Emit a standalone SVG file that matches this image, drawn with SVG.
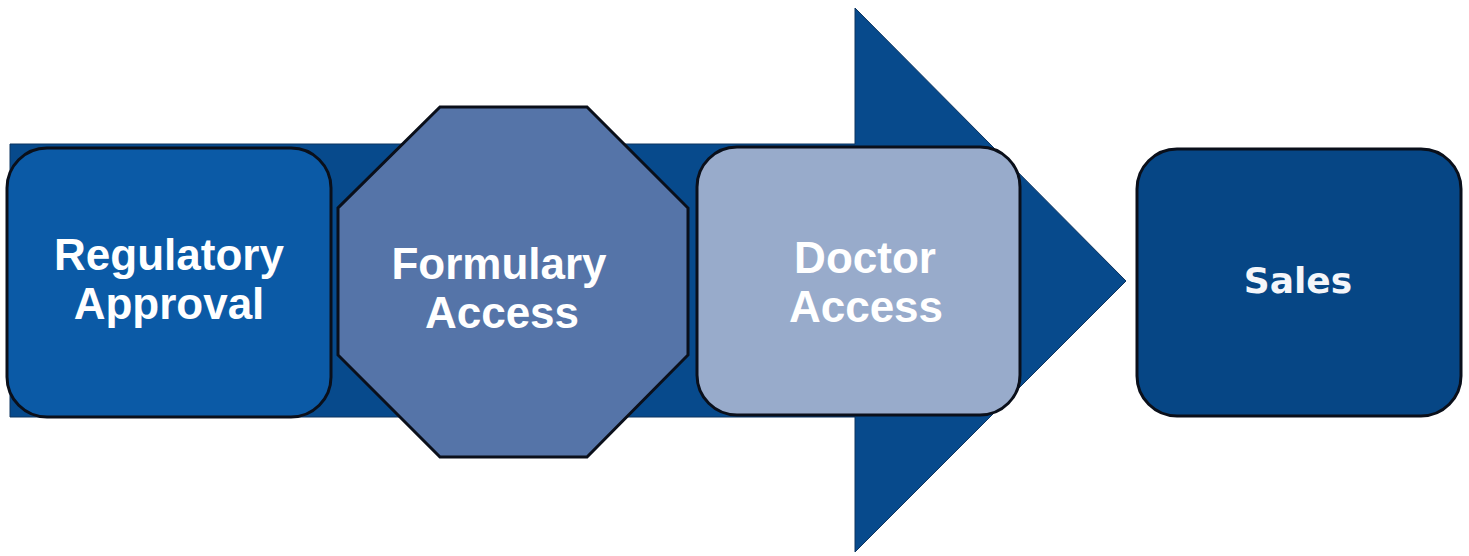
<svg xmlns="http://www.w3.org/2000/svg" width="1469" height="556" viewBox="0 0 1469 556">
  <style>
    .box { stroke: #0a0f1a; stroke-width: 3; }
    .lbl { font-family: "Liberation Sans", Arial, sans-serif; font-weight: bold; font-size: 44px; fill: #ffffff; text-anchor: middle; }
    .lbl2 { font-family: "DejaVu Sans", Verdana, sans-serif; font-weight: bold; font-size: 36px; fill: #f4f6fa; text-anchor: middle; }
  </style>
  <rect width="1469" height="556" fill="#ffffff"/>
  <g id="connectors">
    <path d="M10,144 L855,144 L855,8 L1126,281 L855,552 L855,417 L10,417 Z" fill="#074a8c" stroke="#0d3560" stroke-width="1"/>
  </g>
  <g id="regulatory-approval">
    <rect class="box" x="7" y="148" width="324" height="269" rx="40" ry="40" fill="#0b5aa6"/>
    <text class="lbl" x="169" y="270">Regulatory</text>
    <text class="lbl" x="169" y="319">Approval</text>
  </g>
  <g id="formulary-access">
    <polygon class="box" points="440,107 587,107 688,208 688,355 587,457 440,457 338,355 338,208" fill="#5574a8"/>
    <text class="lbl" x="499" y="279">Formulary</text>
    <text class="lbl" x="502" y="328">Access</text>
  </g>
  <g id="doctor-access">
    <rect class="box" x="697" y="147" width="323" height="268" rx="40" ry="40" fill="#98abcb"/>
    <text class="lbl" x="865" y="273">Doctor</text>
    <text class="lbl" x="866" y="322">Access</text>
  </g>
  <g id="sales">
    <rect class="box" x="1137" y="149" width="324" height="267" rx="40" ry="40" fill="#064685"/>
    <text class="lbl2" x="1298" y="293">Sales</text>
  </g>
</svg>
